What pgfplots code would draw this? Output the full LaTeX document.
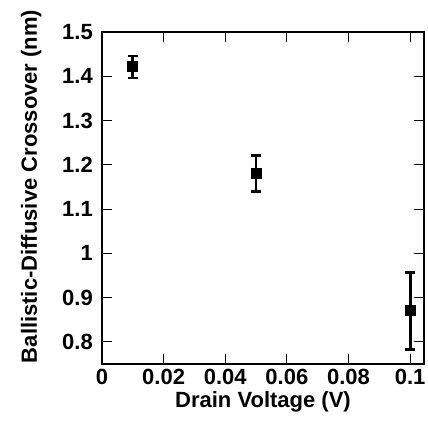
\documentclass[border=0pt]{standalone}
\usepackage{fontspec}
\setmainfont{Liberation Sans}
\usepackage{pgfplots}
\pgfplotsset{compat=1.18}
\begin{document}
\begin{tikzpicture}
\path[use as bounding box] (-102pt,-60pt) rectangle (326pt,364pt);
\begin{axis}[
  scale only axis,
  width=322pt, height=332pt,
  xmin=0, xmax=0.1045,
  ymin=0.75, ymax=1.5,
  xtick={0,0.02,0.04,0.06,0.08,0.1},
  ytick={0.8,0.9,1,1.1,1.2,1.3,1.4,1.5},
  minor tick num=0,
  tick align=inside,
  major tick length=10pt,
  tick style={line width=1pt, black},
  axis line style={line width=1.5pt, black},
  /pgf/number format/assume math mode=true,
  /pgf/number format/fixed,
  /pgf/number format/precision=2,
  scaled x ticks=false,
  ticklabel style={font=\fontsize{22}{26}\selectfont\bfseries, inner sep=0pt},
  xticklabel style={anchor=north, yshift=-5pt},
  yticklabel style={anchor=east, xshift=-9pt},
  every axis x label/.style={at={(axis description cs:0.5,-0.13)}, anchor=base},
  every axis y label/.style={at={(axis description cs:-0.202,0.535)}, rotate=90, anchor=base},
  label style={font=\fontsize{22}{26}\selectfont\bfseries, inner sep=0pt},
  xlabel={Drain Voltage (V)},
  ylabel={Ballistic-Diffusive Crossover (nm)},
  clip=false,
]
\addplot[
  only marks, black, line width=2.8pt,
  mark=square*, mark size=4.1pt,
  mark options={fill=black, line join=miter},
  error bars/.cd,
    y dir=both, y explicit,
    error bar style={line width=2.8pt, black},
    error mark options={rotate=90, mark size=5.3pt, line width=2.8pt, black},
] coordinates {
  (0.01,1.421) +- (0,0.025)
  (0.05,1.180) +- (0,0.041)
  (0.1,0.870) +- (0,0.087)
};
\end{axis}
\end{tikzpicture}
\end{document}
